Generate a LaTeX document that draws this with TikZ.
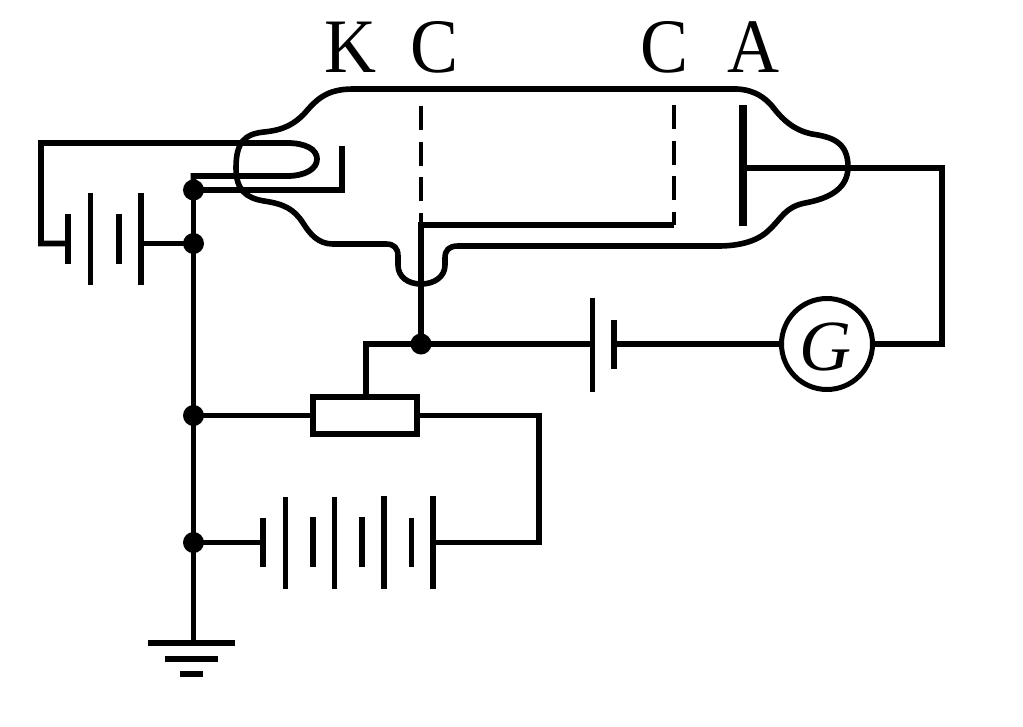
\documentclass[tikz,border=0pt]{standalone}
\usepackage{fontspec}
\setmainfont{Liberation Serif}
\newcommand{\tallglyph}[1]{\scalebox{1}[1.07]{#1}}
\tikzset{
  wire/.style={line width=5.8pt,line cap=butt,line join=miter},
  glass/.style={line width=5.6pt,line join=round},
  thickplate/.style={line width=6pt},
  thinplate/.style={line width=5pt},
  junction/.style={circle,fill=black,minimum size=21pt,inner sep=0pt,outer sep=0pt},
  letter/.style={font=\fontsize{72}{72}\selectfont,anchor=base,inner sep=0pt},
  gridline/.style={line width=4.5pt,dash pattern=on 24pt off 11.5pt},
}
\begin{document}
\begin{tikzpicture}[x=1pt,y=-1pt]
\useasboundingbox (0,0) rectangle (1023,726);
% labels
\node[letter] (K) at (350,72) {\tallglyph{K}};
\node[letter] (C1) at (435,72) {\tallglyph{C}};
\node[letter] (C2) at (665,72) {\tallglyph{C}};
\node[letter] (A) at (753,72) {\tallglyph{A}};
% junctions
\node[junction] (j1) at (193.5,190) {};
\node[junction] (j2) at (193.5,243.5) {};
\node[junction] (j3) at (421,344) {};
\node[junction] (j4) at (193.5,415.5) {};
\node[junction] (j5) at (193.5,542.5) {};
% meter and resistor
\node[draw,circle,line width=5pt,minimum size=91pt,inner sep=0pt] (G) at (827,344) {};
\node[font=\fontsize{72}{72}\selectfont\itshape,anchor=base,inner sep=0pt] (Gtext) at (825,370) {G};
\node[draw,rectangle,line width=6pt,minimum width=104pt,minimum height=37pt,inner sep=0pt] (R) at (365,415.5) {};
% coordinates
\coordinate (loopTL) at (41,143);
\coordinate (loopBL) at (41,243.5);
\coordinate (b1a) at (68,243.5);
\coordinate (b1d) at (141,243.5);
\coordinate (fil1) at (287,143);
\coordinate (fil2) at (287,176);
\coordinate (corner) at (193.5,176);
\coordinate (catR) at (342,190);
\coordinate (catT) at (342,146);
\coordinate (anode) at (743,168);
\coordinate (anodeR) at (942,168);
\coordinate (anodeB) at (942,344);
\coordinate (b2a) at (593,344);
\coordinate (b2b) at (614,344);
\coordinate (tap) at (366,344);
\coordinate (gridT) at (421,225);
\coordinate (gridR) at (674,225);
\coordinate (Rright) at (539,415.5);
\coordinate (Rdown) at (539,542.5);
\coordinate (b3a) at (263,542.5);
\coordinate (b3b) at (433,542.5);
\coordinate (gnd) at (193.5,643);
% heater loop
\draw[wire] (b1a) -- (loopBL) -- (loopTL) -- (fil1)
  .. controls (305,143) and (317,149) .. (317,159)
  .. controls (317,169) and (305,176) .. (fil2) -- (corner) -- (j1.center);
\draw[wire] (j1.center) -- (j2.center) -- (j4.center) -- (j5.center) -- (gnd);
\draw[wire] (j2.center) -- (b1d);
\draw[wire] (j1.center) -- (catR) -- (catT);
% small battery
\draw[thickplate] (68,214) -- (68,264);
\draw[thinplate] (90,193) -- (90,285);
\draw[thickplate] (119,214) -- (119,264);
\draw[thickplate] (141,193) -- (141,285);
% tube
\draw[glass] (353,89) -- (737,89)
  .. controls (755,90) and (765,98) .. (772,106)
  .. controls (782,119) and (793,130) .. (812,134)
  .. controls (832,137) and (848,142) .. (848,167)
  .. controls (848,187) and (832,198) .. (805,203)
  .. controls (785,207) and (782,218) .. (769,230)
  .. controls (758,241) and (740,246) .. (718,246)
  -- (458,246)
  .. controls (449,246) and (445,250) .. (445,258)
  -- (445,265)
  .. controls (445,277) and (434,284) .. (421,284)
  .. controls (408,284) and (398,277) .. (398,265)
  -- (398,256)
  .. controls (398,248) and (394,244) .. (386,244)
  -- (333,244)
  .. controls (318,244) and (310,234) .. (303,223)
  .. controls (294,209) and (284,204) .. (264,201)
  .. controls (246,198) and (236,190) .. (236,168)
  .. controls (236,143) and (244,134) .. (264,132)
  .. controls (284,130) and (294,124) .. (304,114)
  .. controls (316,100) and (326,89) .. (353,89);
% grids
\draw[gridline] (421,106) -- (gridT);
\draw[gridline] (gridR) ++(0,-120) -- (gridR);
\draw[wire,line width=5.5pt] (j3.center) -- (gridT) -- (gridR);
% anode
\draw[line width=8pt] (743,105) -- (743,226);
\draw[wire] (anode) -- (anodeR) -- (anodeB) -- (G.east);
% middle row
\draw[wire] (tap) -- (j3.center) -- (b2a);
\draw[wire] (366,396) -- (tap) -- (j3.center);
\draw[wire] (b2b) -- (G.west);
\draw[thinplate] (592.5,298) -- (592.5,392);
\draw[thickplate] (614,320) -- (614,369);
% resistor circuit
\draw[wire] (j4.center) -- (R.west);
\draw[wire] (R.east) -- (Rright) -- (Rdown) -- (b3b);
\draw[wire] (j5.center) -- (b3a);
% large battery
\draw[thickplate] (263,518) -- (263,567);
\draw[thinplate] (285,497) -- (285,589);
\draw[thickplate] (313,517) -- (313,567);
\draw[thinplate] (334,497) -- (334,589);
\draw[thickplate] (362,517) -- (362,567);
\draw[thickplate] (384,496) -- (384,589);
\draw[thinplate] (411,518) -- (411,567);
\draw[thickplate] (433,496) -- (433,589);
% ground
\draw[thickplate] (148,643) -- (235,643);
\draw[thickplate] (165,659) -- (218,659);
\draw[thickplate] (180,674) -- (203,674);
\end{tikzpicture}
\end{document}
